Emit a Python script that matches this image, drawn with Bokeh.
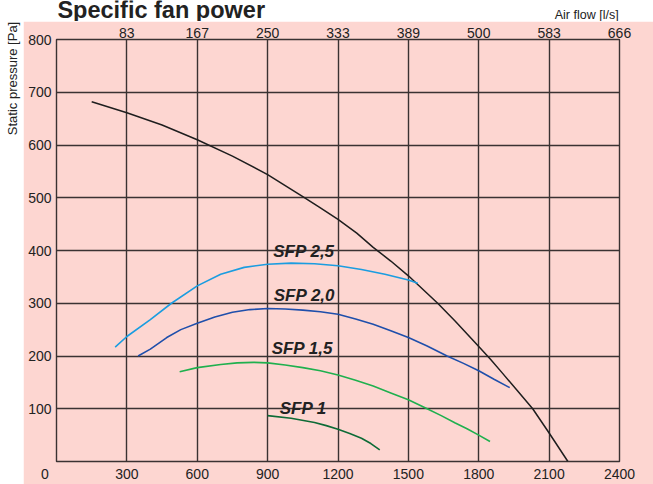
import math
from bokeh.plotting import figure
from bokeh.layouts import row, column
from bokeh.models import Range1d, LinearAxis, FixedTicker, Grid
from bokeh.core.properties import value
from bokeh.embed import file_html
from bokeh.resources import INLINE

# Air flow ticks in m3/h (bottom) with the matching l/s values (top)
flow_ticks = [0, 300, 600, 900, 1200, 1500, 1800, 2100, 2400]
flow_ls_labels = ["83", "167", "250", "333", "389", "500", "583", "666"]
pressure_ticks = [100, 200, 300, 400, 500, 600, 700, 800]

# Fan characteristic (air flow m3/h, static pressure Pa)
fan_flow = [150, 300, 450, 600, 750, 900, 1050, 1125, 1200, 1280, 1350, 1425, 1500, 1625,
            1700, 1800, 1850, 1900, 1965, 2030, 2100, 2180]
fan_pressure = [682, 661, 638, 610, 579, 544, 502, 481, 459, 433, 406, 380, 352, 300,
                266, 218, 194, 168, 134, 100, 54, 0]

# Specific fan power iso-lines
sfp25_flow = [250, 300, 400, 490, 600, 700, 800, 900, 1000, 1100, 1200, 1300, 1400, 1500, 1540]
sfp25_pressure = [217, 237, 269, 300, 333, 355, 368, 374, 376, 375, 371, 364, 355, 344, 338]

sfp20_flow = [348, 400, 470, 530, 600, 675, 750, 825, 900, 975, 1050, 1125, 1200, 1275, 1350,
              1425, 1500, 1580, 1665, 1735, 1800, 1865, 1932]
sfp20_pressure = [200, 213, 235, 250, 262, 274, 283, 288, 290, 289, 287, 284, 279, 270, 260,
                  248, 235, 219, 200, 186, 172, 156, 140]

sfp15_flow = [525, 600, 700, 770, 840, 900, 975, 1050, 1125, 1200, 1275, 1350, 1425, 1500,
              1580, 1640, 1700, 1750, 1800, 1848]
sfp15_pressure = [170, 178, 184, 187, 188, 187, 183, 178, 172, 164, 154, 143, 130, 117,
                  100, 87, 73, 62, 50, 38]

sfp1_flow = [900, 1000, 1100, 1150, 1200, 1250, 1300, 1340, 1378]
sfp1_pressure = [87, 82, 74, 68, 61, 53, 44, 34, 22]

FONT = "Liberation Sans"
INK = "#222222"
PINK = "#fdd6d1"
GRID = "#3a3232"

HEAD_H = 21


def text_strip(w, h):
    """A plain white canvas used for headings around the chart."""
    f = figure(width=w, height=h, output_backend="svg", toolbar_location=None,
               x_range=Range1d(0, w), y_range=Range1d(0, h),
               x_axis_location=None, y_axis_location=None,
               min_border=0, outline_line_color=None,
               background_fill_color="white", border_fill_color="white")
    f.xgrid.visible = False
    f.ygrid.visible = False
    return f


# main chart
p = figure(
    width=630, height=484 - HEAD_H,
    output_backend="svg", toolbar_location=None,
    x_range=Range1d(0, 2400), y_range=Range1d(0, 800),
    x_axis_location=None, y_axis_location=None,
    min_border_left=33, min_border_right=34,
    min_border_top=39 - HEAD_H, min_border_bottom=22,
    background_fill_color=PINK, border_fill_color=PINK,
    outline_line_color=GRID, outline_line_width=1.4,
)
p.xgrid.visible = False
p.ygrid.visible = False


def style_axis(ax, standoff):
    ax.axis_line_color = None
    ax.major_tick_line_color = None
    ax.minor_tick_line_color = None
    ax.major_tick_in = 0
    ax.major_tick_out = 0
    ax.minor_tick_in = 0
    ax.minor_tick_out = 0
    ax.major_label_standoff = standoff
    ax.major_label_text_font = FONT
    ax.major_label_text_font_size = "14px"
    ax.major_label_text_color = INK


# the origin "0" sits a little left of the corner
bottom = LinearAxis(ticker=FixedTicker(ticks=flow_ticks),
                    major_label_overrides={0: "0" + "\u00a0" * 6})
style_axis(bottom, 4)
p.add_layout(bottom, "below")

top = LinearAxis(ticker=FixedTicker(ticks=flow_ticks[1:]),
                 major_label_overrides={t: s for t, s in zip(flow_ticks[1:], flow_ls_labels)})
style_axis(top, 2)
p.add_layout(top, "above")

left = LinearAxis(ticker=FixedTicker(ticks=pressure_ticks))
style_axis(left, 5)
p.add_layout(left, "left")

p.add_layout(Grid(dimension=0, ticker=FixedTicker(ticks=flow_ticks[1:-1]),
                  grid_line_color=GRID, grid_line_width=1.4))
p.add_layout(Grid(dimension=1, ticker=FixedTicker(ticks=pressure_ticks[:-1]),
                  grid_line_color=GRID, grid_line_width=1.4))

# curves
p.line(fan_flow, fan_pressure, line_color="#1e1e1e", line_width=1.5)
p.line(sfp25_flow, sfp25_pressure, line_color="#1b9de0", line_width=1.6)
p.line(sfp20_flow, sfp20_pressure, line_color="#1f4fab", line_width=1.6)
p.line(sfp15_flow, sfp15_pressure, line_color="#1fb04e", line_width=1.6)
p.line(sfp1_flow, sfp1_pressure, line_color="#0d6b36", line_width=1.6)

# curve labels
p.text(x=[1055, 1057, 1048, 1052], y=[398, 314, 215, 101],
       text=["SFP 2,5", "SFP 2,0", "SFP 1,5", "SFP 1"],
       text_font=value(FONT), text_font_size=value("17px"),
       text_font_style="bold italic", text_color=INK,
       text_align="center", text_baseline="middle")

# heading strip above the chart
head = text_strip(630, HEAD_H)
head.text(x=[1], y=[HEAD_H - 9.5], text=["Specific fan power"],
          text_font=value(FONT), text_font_size=value("23.5px"),
          text_font_style="bold", text_color=INK,
          text_align="left", text_baseline="alphabetic")
head.text(x=[629], y=[HEAD_H - 14.5], text=["Air flow [l/s]"],
          text_font=value(FONT), text_font_size=value("12.5px"),
          text_color=INK, text_align="right", text_baseline="alphabetic")

# vertical axis title strip
side = text_strip(23, 484)
side.text(x=[12], y=[484 - 78], text=["Static pressure [Pa]"],
          text_font=value(FONT), text_font_size=value("13px"),
          text_color=INK, angle=math.pi / 2,
          text_align="center", text_baseline="middle")

layout = row(side, column(head, p, spacing=0), spacing=0)

open("out.html", "w").write(file_html(layout, INLINE))
